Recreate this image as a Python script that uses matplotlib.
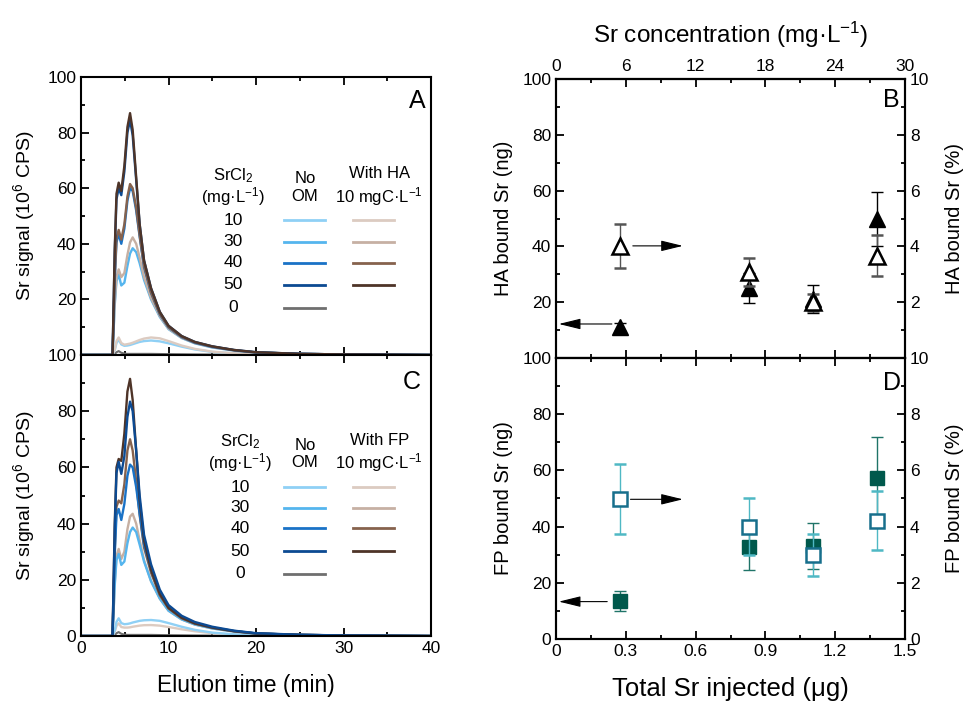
import matplotlib
matplotlib.use('Agg')
import matplotlib.pyplot as plt
from matplotlib.ticker import MultipleLocator, FuncFormatter

plt.rcParams['font.family'] = ['Liberation Sans', 'DejaVu Sans']
plt.rcParams['mathtext.default'] = 'regular'

# elution time (min) shared by all curves
t = [0, 3.6, 3.85, 4.05, 4.3, 4.6, 4.95, 5.3, 5.6, 5.9, 6.3, 6.7, 7.2, 8.0,
     9.0, 10.0, 11.5, 13.0, 15.0, 17.5, 20.0, 25.0, 30.0, 40.0]

# panel A: no OM and with HA, SrCl2 10/30/40/50 mg/L and blank
a_no10 = [0, 0, 1.7, 4.3, 5.5, 3.8, 3.3, 3.4, 3.6, 3.9, 4.3, 4.7, 5.0, 5.2, 4.9, 4.2, 3.0, 2.0, 1.1, 0.6, 0.35, 0.2, 0.1, 0]
a_no30 = [0, 0, 18, 26.5, 29, 25, 26, 32, 36.5, 38.4, 37, 33, 27, 20, 13.7, 9.3, 6.1, 4.2, 2.7, 1.6, 0.9, 0.4, 0.2, 0]
a_no40 = [0, 0, 27, 40.5, 43.5, 40, 45.5, 55.5, 60, 59, 52, 42.5, 31.5, 22.3, 14.6, 9.9, 6.4, 4.4, 2.9, 1.7, 0.9, 0.4, 0.2, 0]
a_no50 = [0, 0, 37, 56, 60, 57.5, 66, 80, 84.5, 79, 63, 47, 34, 24, 15.5, 10.5, 6.8, 4.7, 3.1, 1.8, 1.0, 0.4, 0.2, 0]
a_om10 = [0, 0, 2, 5, 6.3, 4.3, 3.7, 3.9, 4.1, 4.4, 4.9, 5.4, 5.9, 6.3, 6.0, 5.0, 3.4, 2.2, 1.2, 0.6, 0.35, 0.2, 0.1, 0]
a_om30 = [0, 0, 19, 28, 30.8, 28, 29.5, 36, 40.5, 42.3, 40, 35, 28, 20.5, 14, 9.5, 6.2, 4.3, 2.8, 1.6, 0.9, 0.4, 0.2, 0]
a_om40 = [0, 0, 28, 42, 45, 41.5, 47, 57, 61.5, 60, 53, 43, 32, 22.5, 14.8, 10, 6.5, 4.5, 3.0, 1.7, 0.9, 0.4, 0.2, 0]
a_om50 = [0, 0, 38, 58, 62, 59, 68, 82, 87, 81, 64, 47, 34, 24, 15.5, 10.5, 6.8, 4.7, 3.1, 1.8, 1.0, 0.4, 0.2, 0]
a_blank = [0, 0, 0.3, 1.0, 1.4, 0.8, 0.5, 0.4, 0.4, 0.4, 0.4, 0.4, 0.4, 0.4, 0.35, 0.3, 0.25, 0.2, 0.15, 0.1, 0.1, 0.05, 0, 0]

# panel C: no OM and with FP
c_no10 = [0, 0, 2, 5, 6.3, 4.6, 4.2, 4.3, 4.5, 4.8, 5.1, 5.4, 5.6, 5.7, 5.4, 4.6, 3.3, 2.2, 1.2, 0.6, 0.35, 0.2, 0.1, 0]
c_no30 = [0, 0, 18, 27, 29.2, 25.3, 26.5, 33, 37, 38.6, 37, 32.5, 26.5, 19.5, 13.3, 9, 5.9, 4.1, 2.7, 1.6, 0.85, 0.4, 0.2, 0]
c_no40 = [0, 0, 29, 43, 45.2, 41.3, 47, 57, 61, 60, 53, 43.5, 32.5, 23.5, 15.2, 10.2, 6.6, 4.6, 3.0, 1.8, 0.95, 0.4, 0.2, 0]
c_no50 = [0, 0, 38, 58, 62, 57.7, 64, 78, 83.4, 80, 66, 50, 36, 25.5, 16.5, 11, 7.2, 5.0, 3.3, 1.9, 1.0, 0.45, 0.2, 0]
c_om10 = [0, 0, 1.5, 3.6, 4.5, 3.2, 3.0, 3.0, 3.1, 3.3, 3.5, 3.7, 3.85, 3.9, 3.7, 3.2, 2.4, 1.7, 1.0, 0.5, 0.3, 0.2, 0.1, 0]
c_om30 = [0, 0, 19, 28.5, 31, 27.4, 30, 38, 42.5, 43.5, 40, 34, 27, 19.5, 13.3, 9, 5.9, 4.1, 2.7, 1.6, 0.85, 0.4, 0.2, 0]
c_om40 = [0, 0, 31, 46, 48.2, 47.2, 54, 66, 70, 66, 55, 43, 31.5, 22.5, 14.5, 9.8, 6.3, 4.4, 2.9, 1.7, 0.9, 0.4, 0.2, 0]
c_om50 = [0, 0, 40, 60, 63, 62.3, 72, 87, 91.5, 84, 66, 48, 34, 23.5, 15, 10, 6.5, 4.5, 3.0, 1.7, 0.9, 0.4, 0.2, 0]
c_blank = [0, 0, 0.3, 1.0, 1.4, 0.8, 0.5, 0.4, 0.4, 0.4, 0.4, 0.4, 0.4, 0.4, 0.35, 0.3, 0.25, 0.2, 0.15, 0.1, 0.1, 0.05, 0, 0]

conc_labels = ['10', '30', '40', '50', '0']
blues = ['#8fd0f5', '#55b5ee', '#1a72c6', '#0c4a92', '#6f6f6f']
browns = ['#dccbc1', '#c6b0a3', '#86624d', '#4e3428']

# panels B and D
sr_ug = [0.275, 0.828, 1.103, 1.378]
ha_ng = [11.2, 25.1, 21.2, 49.8]
ha_ng_err = [1.5, 5.4, 5.0, 9.6]
ha_pct = [4.02, 3.07, 2.0, 3.67]
ha_pct_err = [0.8, 0.5, 0.3, 0.73]
fp_ng = [13.5, 32.8, 33.1, 57.4]
fp_ng_err = [3.4, 8.2, 8.3, 14.4]
fp_pct = [4.97, 4.0, 2.99, 4.2]
fp_pct_err = [1.25, 1.0, 0.75, 1.05]

fig = plt.figure(figsize=(9.66, 7.07), dpi=100)
axA = fig.add_axes([0.0839, 0.4979, 0.3623, 0.3932])
axC = fig.add_axes([0.0839, 0.1004, 0.3623, 0.3975])
axB = fig.add_axes([0.5756, 0.4936, 0.3613, 0.3946])
axD = fig.add_axes([0.5756, 0.0962, 0.3613, 0.3975])

no_zero = FuncFormatter(lambda v, p: '' if abs(v) < 1e-9 else f'{v:g}')
plain = FuncFormatter(lambda v, p: f'{v:g}')


def style(ax, right=False, top=True):
    for s in ax.spines.values():
        s.set_linewidth(1.5)
    ax.tick_params(which='both', direction='in', top=top, right=right, labelsize=12.5, width=1.3)
    ax.tick_params(which='major', length=6)
    ax.tick_params(which='minor', length=3)


# elution panels
for ax, curves_no, curves_om, om_name, letter in [
        (axA, [a_no10, a_no30, a_no40, a_no50, a_blank], [a_om10, a_om30, a_om40, a_om50], 'With HA', 'A'),
        (axC, [c_no10, c_no30, c_no40, c_no50, c_blank], [c_om10, c_om30, c_om40, c_om50], 'With FP', 'C')]:
    ax.plot(t, curves_no[4], color=blues[4], lw=1.5)
    for i in range(4):
        if letter == 'A':
            ax.plot(t, curves_no[i], color=blues[i], lw=1.7)
            ax.plot(t, curves_om[i], color=browns[i], lw=1.7)
        else:
            ax.plot(t, curves_om[i], color=browns[i], lw=1.7)
            ax.plot(t, curves_no[i], color=blues[i], lw=1.7)
    ax.set_xlim(0, 40)
    ax.set_ylim(0, 100)
    ax.xaxis.set_major_locator(MultipleLocator(10))
    ax.xaxis.set_minor_locator(MultipleLocator(5))
    ax.yaxis.set_major_locator(MultipleLocator(20))
    ax.yaxis.set_minor_locator(MultipleLocator(10))
    style(ax)
    ax.set_ylabel('Sr signal (10$^6$ CPS)', fontsize=14)
    ax.yaxis.set_label_coords(-0.125, 0.5)

    if letter == 'A':
        rows = [0.484, 0.408, 0.332, 0.253, 0.170]
        head = [0.646, 0.570]
        cx = 0.434
        ax.yaxis.set_major_formatter(no_zero)
        ax.tick_params(labelbottom=False)
    else:
        rows = [0.530, 0.456, 0.384, 0.302, 0.221]
        head = [0.690, 0.616]
        cx = 0.454
        ax.xaxis.set_major_formatter(plain)
        ax.set_xlabel('Elution time (min)', fontsize=16.5)
        ax.xaxis.set_label_coords(0.471, -0.135)
    ax.text(cx, head[0], 'SrCl$_2$', transform=ax.transAxes, ha='center', va='center', fontsize=12)
    ax.text(cx, head[1], '(mg·L$^{-1}$)', transform=ax.transAxes, ha='center', va='center', fontsize=12)
    ax.text(0.64, head[0] - 0.012, 'No', transform=ax.transAxes, ha='center', va='center', fontsize=12)
    ax.text(0.64, head[1], 'OM', transform=ax.transAxes, ha='center', va='center', fontsize=12)
    ax.text(0.852, head[0] + 0.006, om_name, transform=ax.transAxes, ha='center', va='center', fontsize=12)
    ax.text(0.852, head[1], '10 mgC·L$^{-1}$', transform=ax.transAxes, ha='center', va='center', fontsize=12)
    for i, lab in enumerate(conc_labels):
        ax.text(cx, rows[i], lab, transform=ax.transAxes, ha='center', va='center', fontsize=12.5)
        ax.plot([0.58, 0.697], [rows[i], rows[i]], transform=ax.transAxes, color=blues[i], lw=2)
        if i < 4:
            ax.plot([0.776, 0.893], [rows[i], rows[i]], transform=ax.transAxes, color=browns[i], lw=2)
    ax.text(0.96 if letter == 'A' else 0.945, 0.913 if letter == 'A' else 0.905, letter,
            transform=ax.transAxes, ha='center', va='center', fontsize=18)

# bound Sr panels
arrow = dict(arrowstyle='-|>,head_length=0.9,head_width=0.22', color='k', lw=0.8,
             mutation_scale=15, shrinkA=0, shrinkB=0)
for ax, ng, ng_err, pct, pct_err, name, letter in [
        (axB, ha_ng, ha_ng_err, ha_pct, ha_pct_err, 'HA', 'B'),
        (axD, fp_ng, fp_ng_err, fp_pct, fp_pct_err, 'FP', 'D')]:
    ax2 = ax.twinx()
    if letter == 'B':
        ax.errorbar(sr_ug, ng, yerr=ng_err, fmt='^', color='k', ms=12, capsize=4.5,
                    elinewidth=1, capthick=1)
        ax2.errorbar(sr_ug, pct, yerr=pct_err, fmt='^', mfc='white', mec='k', mew=1.8, ms=12,
                     ecolor='#555555', capsize=4.5, elinewidth=1, capthick=1)
        ax.annotate('', xy=(0.012, 12.2), xytext=(0.24, 12.2), arrowprops=arrow)
        ax.annotate('', xy=(0.545, 40.2), xytext=(0.33, 40.2), arrowprops=arrow)
    else:
        ax.errorbar(sr_ug, ng, yerr=ng_err, fmt='s', color='#00594c', ms=10, capsize=4.5,
                    ecolor='#1f7468', elinewidth=1, capthick=1)
        ax2.errorbar(sr_ug, pct, yerr=pct_err, fmt='s', mfc='white', mec='#176f8c', mew=1.8, ms=10,
                     ecolor='#4fb8c4', capsize=4.5, elinewidth=1, capthick=1)
        ax.annotate('', xy=(0.012, 13.3), xytext=(0.22, 13.3), arrowprops=arrow)
        ax.annotate('', xy=(0.545, 49.7), xytext=(0.32, 49.7), arrowprops=arrow)
    ax.set_xlim(0, 1.5)
    ax.set_ylim(0, 100)
    ax2.set_ylim(0, 10)
    ax.xaxis.set_major_locator(MultipleLocator(0.3))
    ax.xaxis.set_minor_locator(MultipleLocator(0.15))
    ax.yaxis.set_major_locator(MultipleLocator(20))
    ax.yaxis.set_minor_locator(MultipleLocator(10))
    ax2.yaxis.set_major_locator(MultipleLocator(2))
    ax2.yaxis.set_minor_locator(MultipleLocator(1))
    style(ax, top=(letter == 'D'))
    style(ax2, right=True, top=False)
    ax2.tick_params(which='both', left=False, bottom=False)
    ax.set_ylabel(f'{name} bound Sr (ng)', fontsize=14.5)
    ax2.set_ylabel(f'{name} bound Sr (%)', fontsize=14.5)
    ax.yaxis.set_label_coords(-0.123, 0.5)
    ax2.yaxis.set_label_coords(1.114, 0.5)
    ax.text(0.962, 0.925 if letter == 'B' else 0.91, letter, transform=ax.transAxes,
            ha='center', va='center', fontsize=18)
    if letter == 'B':
        ax.yaxis.set_major_formatter(no_zero)
        ax2.yaxis.set_major_formatter(no_zero)
        ax.tick_params(labelbottom=False)
        top = ax.secondary_xaxis('top', functions=(lambda x: x * 20, lambda x: x / 20))
        top.xaxis.set_major_locator(MultipleLocator(6))
        top.xaxis.set_minor_locator(MultipleLocator(3))
        top.xaxis.set_major_formatter(plain)
        top.tick_params(which='both', direction='in', labelsize=12.5, width=1.3)
        top.tick_params(which='major', length=6)
        top.tick_params(which='minor', length=3)
        top.spines['top'].set_linewidth(1.5)
        top.set_xlabel('Sr concentration (mg·L$^{-1}$)', fontsize=17.5, labelpad=12)
    else:
        ax.xaxis.set_major_formatter(plain)
        ax.yaxis.set_major_formatter(plain)
        ax2.yaxis.set_major_formatter(plain)
        ax.set_xlabel('Total Sr injected (μg)', fontsize=18.5, labelpad=13)

fig.savefig('out.png', dpi=100)
